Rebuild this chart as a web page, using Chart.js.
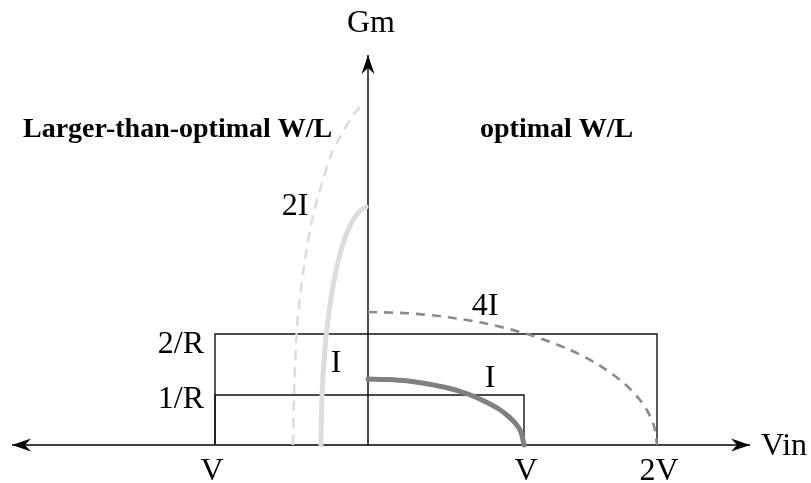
<!DOCTYPE html>
<html>
<head>
<meta charset="utf-8">
<script src="https://cdn.jsdelivr.net/npm/chart.js@4/dist/chart.umd.min.js"></script>
<style>
  html, body { margin: 0; padding: 0; background: #ffffff; }
  #wrap { width: 811px; height: 483px; }
</style>
</head>
<body>
<div id="wrap"><canvas id="c" width="811" height="483"></canvas></div>
<script>
// ---- Data (x: offset along Vin from origin, y: Gm above the axis) ----
const xTickValues = [-153, 156, 289];
const xTickLabels = ["V", "V", "2V"];
const yTickValues = [50, 111];
const yTickLabels = ["1/R", "2/R"];

// optimal W/L, current I (dark solid)
const optI_x = [0, 20, 40, 60, 80, 100, 115, 130, 140, 148, 153, 156];
const optI_y = [66, 65.5, 64, 61, 57, 51, 44.5, 36.5, 29, 21, 13, 0];
// optimal W/L, current 4I (dark dashed)
const opt4I_x = [0, 40, 80, 120, 160, 200, 230, 255, 270, 280, 286, 289];
const opt4I_y = [133, 131.7, 127.8, 121, 110.7, 96, 80.5, 62.6, 47.4, 33, 19, 0];
// larger-than-optimal W/L, current I (light solid)
const largeI_x = [-47, -46.3, -44.3, -40.6, -34.8, -28.3, -22, -15, -8, -2];
const largeI_y = [0, 40, 80, 120, 160, 190, 210, 225, 234, 238];
// larger-than-optimal W/L, current 2I (light dashed)
const large2I_x = [-75, -74, -72.5, -70, -65, -58, -51, -45, -37, -28, -18, -10, -2];
const large2I_y = [0, 50, 90, 130, 172, 215, 245, 265, 290, 308, 325, 336, 341];

// reference boxes 1/R and 2/R
const box1R_x = [-153, -153, 156, 156];
const box1R_y = [0, 50, 50, 0];
const box2R_x = [-153, -153, 289, 289];
const box2R_y = [0, 111, 111, 0];

// axes extent
const xAxis_x = [-356, 382];
const yAxis_y = [0, 390];

const curveLabels = [
  { text: "I", x: -32, y: 73 },
  { text: "2I", x: -73, y: 230 },
  { text: "4I", x: 117, y: 130 },
  { text: "I", x: 122, y: 58 }
];

const pts = (xs, ys) => xs.map((x, i) => ({ x: x, y: ys[i] }));

const serif = '"Liberation Serif", "DejaVu Serif", serif';

const overlay = {
  id: 'overlay',
  afterDatasetsDraw(chart) {
    const ctx = chart.ctx;
    const xs = chart.scales.x, ys = chart.scales.y;
    const X = v => xs.getPixelForValue(v);
    const Y = v => ys.getPixelForValue(v);

    // arrowheads
    function arrow(tx, ty, dx, dy) {
      const L = 19, W = 6.5, N = 13;
      const px = -dy, py = dx;
      ctx.beginPath();
      ctx.moveTo(tx, ty);
      ctx.lineTo(tx - dx * L + px * W, ty - dy * L + py * W);
      ctx.lineTo(tx - dx * N, ty - dy * N);
      ctx.lineTo(tx - dx * L - px * W, ty - dy * L - py * W);
      ctx.closePath();
      ctx.fillStyle = '#000';
      ctx.fill();
    }
    arrow(X(xAxis_x[1]), Y(0), 1, 0);
    arrow(X(xAxis_x[0]), Y(0), -1, 0);
    arrow(X(0), Y(yAxis_y[1]), 0, -1);

    ctx.save();
    ctx.fillStyle = '#000';
    ctx.font = '32px ' + serif;
    ctx.textBaseline = 'alphabetic';

    // axis titles
    ctx.textAlign = 'center';
    ctx.fillText('Gm', X(0) + 3, 32);
    ctx.textAlign = 'left';
    ctx.fillText('Vin', X(xAxis_x[1]) + 11, Y(0) + 10);

    // x tick labels
    ctx.textAlign = 'center';
    xTickValues.forEach((v, i) => {
      ctx.fillText(xTickLabels[i], X(v) + (v < 0 ? -3 : 2), Y(0) + 35);
    });
    // y tick labels
    ctx.textAlign = 'right';
    const yOff = [13, 19];
    yTickValues.forEach((v, i) => {
      ctx.fillText(yTickLabels[i], X(xTickValues[0]) - 11, Y(v) + yOff[i]);
    });

    // curve labels
    ctx.textAlign = 'center';
    curveLabels.forEach(l => ctx.fillText(l.text, X(l.x), Y(l.y)));

    // region titles
    ctx.font = 'bold 28px ' + serif;
    ctx.textAlign = 'left';
    ctx.fillText('Larger-than-optimal W/L', 23, 137);
    ctx.fillText('optimal W/L', 480, 137);
    ctx.restore();
  }
};

const black = '#111';
new Chart(document.getElementById('c'), {
  type: 'scatter',
  data: {
    datasets: [
      { label: 'I (optimal)', data: pts(optI_x, optI_y), borderColor: '#808080', borderWidth: 5, borderCapStyle: 'round', tension: 0.3, order: 0 },
      { label: '4I (optimal)', data: pts(opt4I_x, opt4I_y), borderColor: '#8a8a8a', borderWidth: 2.6, borderDash: [9, 7], tension: 0.3, order: 0 },
      { label: 'I (larger)', data: pts(largeI_x, largeI_y), borderColor: '#dcdcdc', borderWidth: 5, borderCapStyle: 'round', tension: 0.3, order: 0 },
      { label: '2I (larger)', data: pts(large2I_x, large2I_y), borderColor: '#dcdcdc', borderWidth: 2.6, borderDash: [10, 7], tension: 0.3, order: 0 },
      { label: '1/R box', data: pts(box1R_x, box1R_y), borderColor: black, borderWidth: 1.4, order: 1 },
      { label: '2/R box', data: pts(box2R_x, box2R_y), borderColor: black, borderWidth: 1.4, order: 1 },
      { label: 'x axis', data: pts(xAxis_x, [0, 0]), borderColor: '#000', borderWidth: 1.4, order: 2 },
      { label: 'y axis', data: pts([0, 0], yAxis_y), borderColor: '#000', borderWidth: 1.4, order: 2 }
    ].map(d => Object.assign({ showLine: true, pointRadius: 0, pointHoverRadius: 0, tension: 0, fill: false }, d))
  },
  options: {
    responsive: false,
    animation: false,
    devicePixelRatio: 1,
    layout: { padding: 0 },
    plugins: { legend: { display: false }, tooltip: { enabled: false } },
    scales: {
      x: { type: 'linear', display: false, min: -368, max: 443 },
      y: { type: 'linear', display: false, min: -38, max: 445 }
    },
    datasets: { scatter: { clip: false } }
  },
  plugins: [overlay]
});
</script>
</body>
</html>
